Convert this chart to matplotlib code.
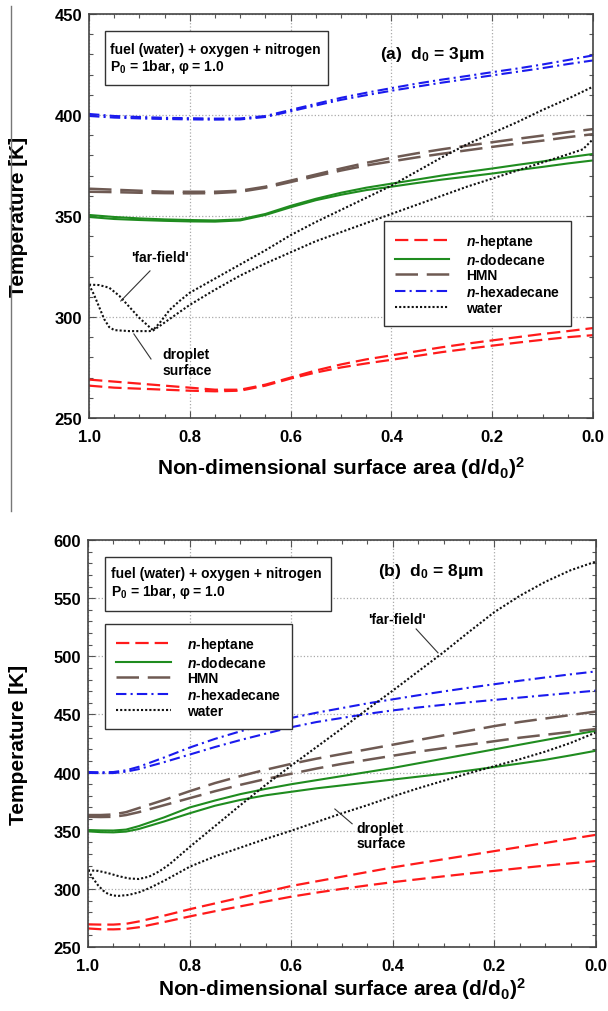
import matplotlib
matplotlib.use("Agg")
import matplotlib.pyplot as plt
from matplotlib.lines import Line2D
from matplotlib.patches import Rectangle
from matplotlib.ticker import MultipleLocator, FormatStrFormatter

plt.rcParams['font.family'] = ['Liberation Sans', 'DejaVu Sans']
plt.rcParams['font.weight'] = 'bold'
plt.rcParams['axes.labelweight'] = 'bold'
plt.rcParams['mathtext.fontset'] = 'custom'
plt.rcParams['mathtext.rm'] = 'Liberation Sans:bold'
plt.rcParams['mathtext.it'] = 'Liberation Sans:italic:bold'
plt.rcParams['mathtext.bf'] = 'Liberation Sans:bold'
plt.rcParams['mathtext.default'] = 'rm'

# ---- panel (a) : d0 = 3 um ----
X_A = [1.00, 0.95, 0.90, 0.85, 0.80, 0.75, 0.70, 0.65, 0.60, 0.55, 0.50,
       0.45, 0.40, 0.35, 0.30, 0.25, 0.20, 0.15, 0.10, 0.05, 0.00]
HEPTANE_A_HI = [269, 268, 267, 266, 265, 264, 264, 266.5, 270, 273.5, 276.5,
                279, 281, 283, 285, 286.8, 288.4, 290, 291.6, 293, 294.5]
HEPTANE_A_LO = [266, 265, 264.5, 264, 263.5, 263.2, 263.5, 266, 269.5, 272.5, 275,
                277, 278.8, 280.7, 282.6, 284.2, 285.8, 287.3, 288.7, 290, 291]
DODECANE_A_HI = [350.5, 349.5, 348.8, 348.3, 348, 347.8, 348.3, 351, 355, 358.5, 361.5,
                 364, 366, 368, 370, 371.8, 373.5, 375.3, 377, 379, 380.7]
DODECANE_A_LO = [349.5, 348.5, 348, 347.6, 347.3, 347.2, 347.8, 350.5, 354.3, 357.8, 360.5,
                 362.8, 364.5, 366.3, 368, 369.5, 371, 372.7, 374.3, 376, 377.5]
HMN_A_HI = [363.5, 363, 362.5, 362, 362, 362, 362.5, 364.5, 367.5, 370.5, 373.5,
            376.3, 378.8, 381, 383, 384.8, 386.5, 388.2, 389.8, 391.5, 393]
HMN_A_LO = [362, 361.8, 361.5, 361.3, 361.2, 361.3, 362, 364, 366.8, 369.7, 372.5,
            375, 377, 379, 380.8, 382.5, 384.2, 385.8, 387.3, 389, 390.5]
HEXADECANE_A_HI = [400.5, 399.5, 399, 398.6, 398.4, 398.2, 398.3, 399.5, 402.5, 405.5, 408.5,
                   411, 413.3, 415.5, 417.5, 419.3, 421.2, 423, 425, 427.2, 429.5]
HEXADECANE_A_LO = [399.5, 398.7, 398.3, 398, 397.8, 397.7, 397.8, 399, 401.8, 404.7, 407.5,
                   409.8, 412, 414, 416, 417.8, 419.6, 421.4, 423.2, 425.2, 427]
XW_A_FAR = [1.0, 0.98, 0.96, 0.94, 0.92, 0.90, 0.88, 0.873, 0.86, 0.84, 0.82, 0.80, 0.75, 0.70,
            0.65, 0.60, 0.55, 0.50, 0.45, 0.40, 0.35, 0.30, 0.25, 0.20, 0.15, 0.10, 0.05, 0.0]
WATER_A_FAR = [316, 315.8, 314.5, 310.5, 305, 299.5, 295, 293.5, 297, 303.5, 308, 312, 319, 326,
               333, 340.5, 347, 353, 359, 365, 372, 379, 385.5, 391, 396.5, 402.5, 408, 414]
XW_A_DROP = [1.0, 0.99, 0.98, 0.97, 0.96, 0.95, 0.92, 0.90, 0.88, 0.873, 0.86, 0.84, 0.82, 0.80,
             0.75, 0.70, 0.65, 0.60, 0.55, 0.50, 0.45, 0.40, 0.35, 0.30, 0.25, 0.20, 0.15,
             0.10, 0.05, 0.02, 0.0]
WATER_A_DROP = [316, 311, 305, 299, 295, 293.5, 293, 293, 293, 293.3, 295.5, 299, 302.5, 306,
                313.5, 320.5, 326.5, 332, 337.5, 342, 346.5, 351, 355.5, 360, 364.5, 368.5, 372.5,
                376.5, 380.5, 383, 388]

# ---- panel (b) : d0 = 8 um ----
X_B = [1.0, 0.975, 0.95, 0.925, 0.9, 0.85, 0.8, 0.75, 0.7, 0.65, 0.6, 0.55,
       0.5, 0.45, 0.4, 0.35, 0.3, 0.25, 0.2, 0.15, 0.1, 0.05, 0.0]
HEPTANE_B_HI = [269.5, 269.3, 269.3, 270, 272, 277, 282.5, 287.5, 292.5, 297.5, 302.5, 306.5,
                310.5, 314.5, 318.5, 322, 325.5, 329, 332.5, 336, 339.5, 343, 346.5]
HEPTANE_B_LO = [266, 265.3, 265.2, 265.6, 267, 271.5, 276.3, 280.8, 285, 289.2, 293.3, 296.8,
                300, 303, 305.8, 308.3, 310.8, 313.2, 315.5, 317.8, 320, 322, 324]
DODECANE_B_HI = [350.6, 350.3, 350.2, 351, 354, 361.5, 370, 376, 381.5, 386, 390, 393.5,
                 397, 400.5, 404, 408, 412, 416, 420, 424, 428, 432, 436]
DODECANE_B_LO = [349.5, 348.8, 348.6, 349.3, 351.5, 358, 365, 371.5, 376.5, 380.5, 383.5, 386.5,
                 389, 391.5, 394, 396.5, 399, 401.8, 404.8, 407.8, 411, 414.8, 418.8]
HMN_B_HI = [363.5, 363.5, 364, 366, 369.5, 376.5, 384, 391, 397, 402.5, 407.5, 412,
            416, 420, 424, 428, 432, 436, 440, 443.5, 446.5, 449.5, 452.5]
HMN_B_LO = [362, 361.8, 362, 363.5, 366, 372, 378, 384, 389.5, 394.5, 399, 403.5,
            407.5, 411, 414.5, 418, 421, 424, 427, 430, 432.5, 435, 437.5]
HEXADECANE_B_HI = [400.5, 400.3, 400.5, 402, 405, 413, 421.5, 429, 435.5, 441.5, 447, 451.5,
                   455.5, 459.5, 463, 466.5, 469.8, 473, 476, 479, 481.8, 484.5, 487]
HEXADECANE_B_LO = [399.8, 399.5, 399.6, 400.8, 403, 409, 415.5, 422, 428, 433.5, 439, 443.5,
                   447, 450.5, 453.5, 456, 458.3, 460.5, 462.5, 464.5, 466.5, 468.5, 470.5]
XW_B_FAR = [1.0, 0.98, 0.96, 0.94, 0.92, 0.90, 0.88, 0.86, 0.84, 0.82, 0.80, 0.75, 0.70, 0.65,
            0.60, 0.55, 0.50, 0.45, 0.40, 0.35, 0.30, 0.25, 0.20, 0.15, 0.10, 0.05, 0.0]
WATER_B_FAR = [316, 315.5, 313.5, 311, 309, 308.5, 310.5, 315, 321, 328.5, 336, 354, 372, 389.5,
               406, 422, 438, 454.5, 470.5, 487, 503.5, 521, 538, 552, 564, 574, 581.5]
XW_B_DROP = [1.0, 0.99, 0.98, 0.97, 0.96, 0.95, 0.94, 0.92, 0.90, 0.88, 0.85, 0.80, 0.75, 0.70,
             0.65, 0.60, 0.55, 0.50, 0.45, 0.40, 0.35, 0.30, 0.25, 0.20, 0.15, 0.10, 0.05, 0.0]
WATER_B_DROP = [316, 309, 303, 298.5, 295.5, 294.3, 294, 294.8, 297, 300.5, 307, 319, 328, 335.5,
                343, 350, 357.5, 365, 372, 379.5, 386.5, 393, 399.5, 405.5, 411.5, 418, 425.5, 434.5]

LABELS = [r"$\mathit{n}$-heptane", r"$\mathit{n}$-dodecane", "HMN",
          r"$\mathit{n}$-hexadecane", "water"]

RED, GREEN, BROWN, BLUE, BLACK = '#ff1a1a', '#1f8c1f', '#6e5a53', '#1a1aee', '#111111'
STYLES = [
    dict(color=RED,   lw=1.6, dashes=(6, 2.7)),
    dict(color=GREEN, lw=1.5, linestyle='-'),
    dict(color=BROWN, lw=1.8, dashes=(9, 3.5)),
    dict(color=BLUE,  lw=1.5, dashes=(5, 2, 1, 2)),
    dict(color=BLACK, lw=1.5, dashes=(1, 1)),
]

fig = plt.figure(figsize=(6.08, 10.12), dpi=100)
ax_a = fig.add_axes([0.1464, 0.5860, 0.8289, 0.3992])
ax_b = fig.add_axes([0.1447, 0.0632, 0.8355, 0.4022])

# separator line on the left of panel (a)
fig.add_artist(Line2D([11 / 608, 11 / 608], [1 - 7 / 1012, 1 - 512 / 1012],
                      transform=fig.transFigure, color='#777777', lw=1.0))


def draw_panel(ax, xs, curves, water, ylim, ytop_step):
    for (hi, lo), st, lab in zip(curves, STYLES[:4], LABELS[:4]):
        ax.plot(xs, hi, label=lab, **st)
        ax.plot(xs, lo, **st)
    (xf, tf), (xd, td) = water
    ax.plot(xf, tf, label=LABELS[4], **STYLES[4])
    ax.plot(xd, td, **STYLES[4])

    ax.set_xlim(1.0, 0.0)
    ax.set_ylim(*ylim)
    ax.xaxis.set_major_locator(MultipleLocator(0.2))
    ax.xaxis.set_minor_locator(MultipleLocator(0.05))
    ax.xaxis.set_major_formatter(FormatStrFormatter('%.1f'))
    ax.yaxis.set_major_locator(MultipleLocator(ytop_step))
    ax.yaxis.set_minor_locator(MultipleLocator(10))
    ax.tick_params(which='both', direction='in', top=True, right=True,
                   color='#555555', width=0.8)
    ax.tick_params(which='major', length=5, labelsize=12)
    ax.tick_params(which='minor', length=3)
    ax.tick_params(axis='x', pad=8)
    ax.tick_params(axis='y', pad=5)
    for lab in ax.get_xticklabels() + ax.get_yticklabels():
        lab.set_fontweight('bold')
    ax.grid(True, which='major', color='#aaaaaa', linestyle=':', lw=0.9)
    for sp in ax.spines.values():
        sp.set_color('#444444')
        sp.set_linewidth(1.2)
    ax.set_ylabel('Temperature [K]', fontsize=15, fontweight='bold')
    ax.set_xlabel(r'Non-dimensional surface area (d/d$_0$)$^2$', fontsize=15,
                  fontweight='bold')


draw_panel(ax_a, X_A,
           [(HEPTANE_A_HI, HEPTANE_A_LO), (DODECANE_A_HI, DODECANE_A_LO),
            (HMN_A_HI, HMN_A_LO), (HEXADECANE_A_HI, HEXADECANE_A_LO)],
           [(XW_A_FAR, WATER_A_FAR), (XW_A_DROP, WATER_A_DROP)],
           (250, 450), 50)
draw_panel(ax_b, X_B,
           [(HEPTANE_B_HI, HEPTANE_B_LO), (DODECANE_B_HI, DODECANE_B_LO),
            (HMN_B_HI, HMN_B_LO), (HEXADECANE_B_HI, HEXADECANE_B_LO)],
           [(XW_B_FAR, WATER_B_FAR), (XW_B_DROP, WATER_B_DROP)],
           (250, 600), 50)

ax_a.yaxis.set_label_coords(-0.121, 0.5)
ax_b.yaxis.set_label_coords(-0.118, 0.5)
ax_a.xaxis.set_label_coords(0.5, -0.090)
ax_b.xaxis.set_label_coords(0.5, -0.068)


def info_box(ax, x0, x1, y0, y1, ty1, ty2, title, tx, ty):
    ax.add_patch(Rectangle((x0, y0), x1 - x0, y1 - y0, transform=ax.transAxes,
                           fill=True, facecolor='white', edgecolor='#333333',
                           lw=1.0, zorder=5))
    ax.text(x0 + 0.011, ty1, 'fuel (water) + oxygen + nitrogen', transform=ax.transAxes,
            fontsize=10, fontweight='bold', va='center', zorder=6)
    ax.text(x0 + 0.011, ty2, r'P$_0$ = 1bar, φ = 1.0', transform=ax.transAxes,
            fontsize=10, fontweight='bold', va='center', zorder=6)
    ax.text(tx, ty, title, transform=ax.transAxes, fontsize=12.5,
            fontweight='bold', va='center', zorder=6)


info_box(ax_a, 0.031, 0.474, 0.824, 0.958, 0.913, 0.871, r'(a)  d$_0$ = 3μm', 0.577, 0.901)
info_box(ax_b, 0.034, 0.478, 0.826, 0.958, 0.919, 0.875, r'(b)  d$_0$ = 8μm', 0.570, 0.924)


def add_legend(ax, x, y):
    leg = ax.legend(loc='upper left', bbox_to_anchor=(x, y), fontsize=10,
                    handlelength=3.9, handletextpad=1.2, labelspacing=0.12,
                    borderpad=0.8, borderaxespad=0.0, fancybox=False,
                    framealpha=1.0, edgecolor='#333333')
    leg.get_frame().set_linewidth(1.0)
    leg.set_zorder(7)


add_legend(ax_a, 0.585, 0.488)
add_legend(ax_b, 0.034, 0.794)

# annotations panel (a)
ax_a.text(0.859, 329.7, "'far-field'", fontsize=10, fontweight='bold', ha='center', va='center')
ax_a.plot([0.879, 0.937], [322.8, 307.9], color='#333333', lw=0.8)
ax_a.text(0.855, 277.7, 'droplet\nsurface', fontsize=10, fontweight='bold', ha='left',
          va='center', linespacing=1.1)
ax_a.plot([0.877, 0.911], [279.2, 291.6], color='#333333', lw=0.8)

# annotations panel (b)
ax_b.text(0.392, 532, "'far-field'", fontsize=10, fontweight='bold', ha='center', va='center')
ax_b.plot([0.354, 0.311], [523.5, 503], color='#333333', lw=0.8)
ax_b.text(0.472, 346, 'droplet\nsurface', fontsize=10, fontweight='bold', ha='left',
          va='center', linespacing=1.1)
ax_b.plot([0.514, 0.48], [368.7, 356], color='#333333', lw=0.8)

fig.savefig('out.png', dpi=100)
